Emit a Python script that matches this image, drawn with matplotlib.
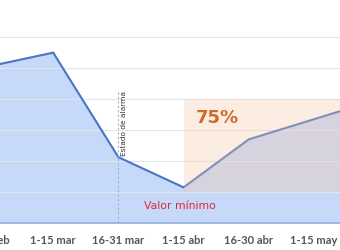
import matplotlib.pyplot as plt
import matplotlib.transforms as mtransforms
import numpy as np

periods = ["1-15 feb", "1-15 mar", "16-31 mar", "1-15 abr", "16-30 abr", "1-15 may", "16-31 may"]
values = [101, 110, 42.5, 23, 54, 67, 80]
min_value = 20
recovery_top = 80

x = np.arange(len(periods))

fig = plt.figure(figsize=(3.4, 2.5), dpi=100)
ax = fig.add_axes([0, 0.108, 1, 0.892])

ax.fill_between(x, values, 0, color="#c6d9f8", zorder=1)
ax.plot(x, values, color="#4a76c4", lw=1.5, zorder=2)

# orange recovery band drawn over the line
ax.fill_between([3, 7], min_value, recovery_top, color="#f8c8a8", alpha=0.32, lw=0, zorder=3)

for g in range(20, 140, 20):
    ax.axhline(g, color="#dfe6ee", lw=0.8, zorder=1.5)

ax.axvline(2, ymin=0, ymax=86 / 144, color="#9ab0cc", lw=0.8, ls=(0, (2, 2)), zorder=2.5)
ax.text(2.09, 85, "Estado de alarma", rotation=90, ha="center", va="top",
        fontsize=5.3, color="#333333", zorder=4)

ax.text(3.52, 67.5, "75%", ha="center", va="center", fontsize=13,
        fontweight="bold", color="#cc6a2c", zorder=4)
ax.text(2.95, 11, "Valor mínimo", ha="center", va="center", fontsize=7.8,
        fontweight="medium", color="#e0263f", zorder=4)

ax.set_xticks(x[1:6])
ax.set_xticklabels(periods[1:6], fontsize=8, fontweight="bold", color="#555555", family="Lato")
ax.tick_params(axis="x", length=0, pad=9)
ax.set_xlim(0.184, 5.40)
ax.set_ylim(0, 144)

# first label sits partly off the left edge, as in the source
trans = mtransforms.blended_transform_factory(ax.transData, ax.transAxes)
ax.text(x[0], -0.052, periods[0], transform=trans, ha="center", va="top", clip_on=False,
        fontsize=8, fontweight="bold", color="#555555", family="Lato")

ax.set_yticks([])
for s in ["top", "left", "right"]:
    ax.spines[s].set_visible(False)
ax.spines["bottom"].set_color("#8eaee0")
ax.spines["bottom"].set_linewidth(1.2)

fig.savefig("out.png", dpi=100)
